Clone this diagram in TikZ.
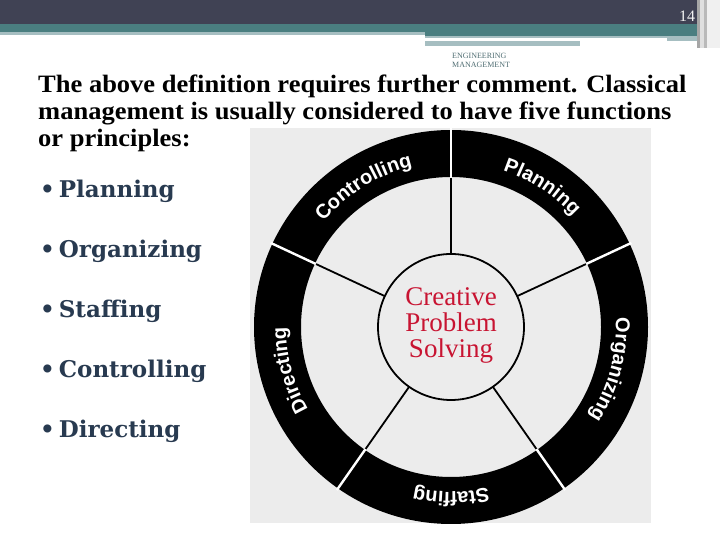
\documentclass[tikz,border=0pt]{standalone}
\usepackage{fontspec}
\setmainfont{Liberation Serif}
\newfontfamily\introfont[FakeStretch=1.06]{Liberation Serif}
\newfontfamily\wheelfont{Liberation Sans}
\newfontfamily\itemfont{DejaVu Serif}
\usepackage{xcolor}
\definecolor{barslate}{RGB}{64,66,84}
\definecolor{barteal}{RGB}{74,126,128}
\definecolor{barmist}{RGB}{166,190,193}
\definecolor{inkslate}{RGB}{40,58,80}
\definecolor{photogray}{RGB}{236,236,236}
\definecolor{solvered}{RGB}{200,20,50}
\definecolor{headteal}{RGB}{80,110,115}
\usepackage{tikz}
\usetikzlibrary{decorations.text}
\tikzset{
  spoke/.style={line width=1.8pt, black},
  ringgap/.style={line width=2.4pt, white},
  ringlabel/.style={decorate, decoration={text along path,
      text align=center, text color=white,
      text={|\wheelfont\bfseries\fontsize{20}{20}\selectfont|#1}}},
  itemtext/.style={anchor=base west, inner sep=0pt, inkslate,
      font=\itemfont\bfseries\fontsize{23}{23}\selectfont},
}

\begin{document}
\begin{tikzpicture}[x=1pt, y=1pt]
  \useasboundingbox (0,0) rectangle (720,540);
  \fill[white] (0,0) rectangle (720,540);

  % title bars
  \fill[barslate] (0,516) rectangle (700,540);
  \fill[barteal] (0,508) rectangle (700,516);
  \fill[barmist] (0,505) rectangle (425,508);
  \fill[barteal] (425,504) rectangle (700,508);
  \fill[barmist] (425,494) rectangle (700,504);
  \fill[white] (425,499) rectangle (667,502);
  \fill[white] (580,494) rectangle (700,499);
  \fill[gray!70] (697,492) rectangle (700,540);
  \fill[gray!25] (700,492) rectangle (704,540);
  \fill[gray!55] (704,492) rectangle (707,540);
  \fill[gray!12] (707,492) rectangle (720,540);
  \node[white!90!gray, font=\fontsize{16}{16}\selectfont]
    (pagenum) at (687,524) {14};
  \node[headteal, font=\fontsize{8}{9}\selectfont, align=left,
        anchor=north west, inner sep=0pt]
    (course) at (452,487) {ENGINEERING\\MANAGEMENT};

  % intro text
  \node[anchor=north west, inner sep=0pt, align=left,
        font=\introfont\bfseries\fontsize{25}{27}\selectfont]
    (intro) at (38,465)
    {The above definition requires further comment. Classical\\
     management is usually considered to have five functions\\
     or principles:};

  % the five functions
  \foreach \name/\lbl/\yy in {plan/Planning/198, org/Organizing/258,
      staff/Staffing/318, ctrl/Controlling/378, dir/Directing/438}{
    \node[itemtext] (\name) at (40,540-\yy) {\textbullet\hspace{4pt}\lbl};
  }

  % wheel
  \coordinate (hub) at (451,213);
  \fill[photogray] (250,17) rectangle (651,412);
  \fill[black, even odd rule] (hub) circle (197) (hub) circle (150);
  \foreach \a in {90,25,-55,-125,155}{
    \draw[spoke] (hub) ++(\a:73) -- ++(\a:78);
    \draw[ringgap] (hub) ++(\a:149) -- ++(\a:50);
  }
  \draw[line width=1.8pt, fill=photogray] (hub) circle (73);
  \node[solvered, align=center, font=\fontsize{27}{26}\selectfont]
    (core) at (451,215) {Creative\\Problem\\Solving};

  % ring labels, clockwise
  \path[ringlabel=Controlling] (hub) ++(162:165) arc (162:82:165);
  \path[ringlabel=Planning] (hub) ++(97:165) arc (97:17:165);
  \path[ringlabel=Organizing] (hub) ++(25:165) arc (25:-55:165);
  \path[ringlabel=Staffing] (hub) ++(-50:165) arc (-50:-130:165);
  \path[ringlabel=Directing] (hub) ++(235:165) arc (235:155:165);
\end{tikzpicture}
\end{document}
